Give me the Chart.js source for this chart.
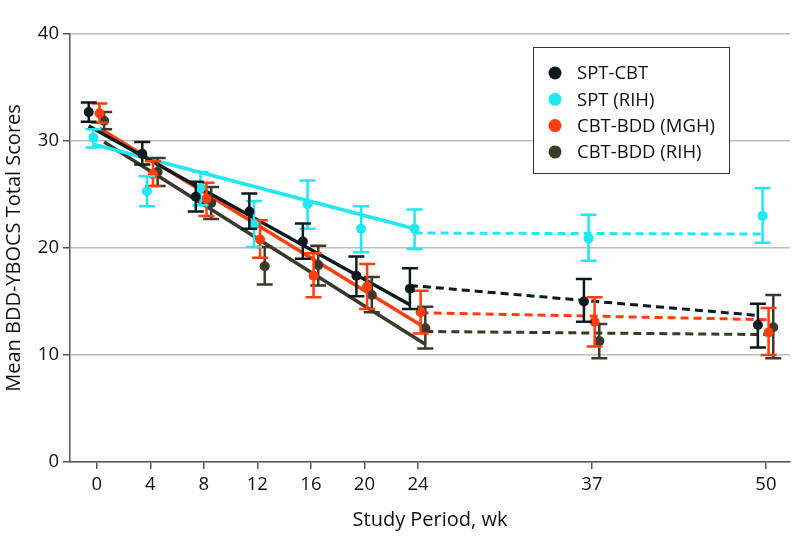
<!DOCTYPE html>
<html>
<head>
<meta charset="utf-8">
<script src="https://cdn.jsdelivr.net/npm/chart.js@4.4.1/dist/chart.umd.min.js"></script>
<style>
  html, body { margin: 0; padding: 0; background: #fff; }
  #wrap { width: 798px; height: 548px; }
</style>
</head>
<body>
<div id="wrap"><canvas id="chart" width="798" height="548"></canvas></div>
<script>
const weeks = [0, 4, 8, 12, 16, 20, 24, 37, 50];
const xTicks = [0, 4, 8, 12, 16, 20, 24, 37, 50];
const seriesNames = ["SPT-CBT", "SPT (RIH)", "CBT-BDD (MGH)", "CBT-BDD (RIH)"];

// group means and error bar ends, one array per series
const sptCbtMean = [32.7, 28.8, 24.8, 23.4, 20.6, 17.4, 16.2, 15.0, 12.8];
const sptCbtHi   = [33.6, 29.9, 26.2, 25.1, 22.3, 19.2, 18.1, 17.1, 14.8];
const sptCbtLo   = [31.8, 27.8, 23.4, 21.8, 19.0, 15.5, 14.3, 13.1, 10.7];

const sptRihMean = [30.3, 25.3, 25.6, 22.2, 24.1, 21.8, 21.8, 20.9, 23.0];
const sptRihHi   = [31.1, 26.7, 27.1, 24.4, 26.3, 23.9, 23.6, 23.1, 25.6];
const sptRihLo   = [29.4, 23.9, 24.0, 20.1, 21.8, 19.6, 19.9, 18.8, 20.5];

const cbtMghMean = [32.6, 26.9, 24.6, 20.8, 17.4, 16.4, 14.0, 13.1, 12.1];
const cbtMghHi   = [33.5, 28.1, 26.1, 22.6, 19.5, 18.5, 16.0, 15.4, 14.4];
const cbtMghLo   = [31.7, 25.8, 23.0, 19.1, 15.4, 14.3, 12.0, 10.8, 10.0];

const cbtRihMean = [31.9, 27.1, 24.2, 18.3, 18.4, 15.6, 12.5, 11.3, 12.6];
const cbtRihHi   = [32.7, 28.4, 25.7, 20.1, 20.2, 17.3, 14.5, 12.9, 15.6];
const cbtRihLo   = [31.1, 25.8, 22.7, 16.6, 16.5, 14.0, 10.6, 9.7, 9.7];

// fitted trend ends: treatment phase (wk 0-24) and follow-up (wk 24-50)
const fitTreatStart  = [31.4, 29.7, 31.2, 29.9];
const fitTreatEnd    = [14.7, 21.8, 12.8, 11.0];
const fitFollowStart = [16.5, 21.4, 13.95, 12.2];
const fitFollowEnd   = [13.7, 21.3, 13.3, 11.9];

const means = [sptCbtMean, sptRihMean, cbtMghMean, cbtRihMean];
const his = [sptCbtHi, sptRihHi, cbtMghHi, cbtRihHi];
const los = [sptCbtLo, sptRihLo, cbtMghLo, cbtRihLo];

const colors = ["#0c1a1d", "#1ee9f3", "#ff3d0d", "#3b3a2b"];
const jitter = [-0.6, -0.25, 0.2, 0.55];
const fontFamily = "'Open Sans', sans-serif";

const pointSets = means.map((m, i) => ({
  label: seriesNames[i],
  data: weeks.map((w, j) => ({ x: w + jitter[i], y: m[j] })),
  showLine: false,
  pointRadius: 5,
  pointBorderWidth: 0,
  backgroundColor: colors[i],
  borderColor: colors[i],
}));

const treatSets = seriesNames.map((name, i) => ({
  label: name + " fit",
  data: [
    { x: weeks[0] + jitter[i], y: fitTreatStart[i] },
    { x: weeks[6] + jitter[i], y: fitTreatEnd[i] },
  ],
  showLine: true,
  borderColor: colors[i],
  borderWidth: 3.5,
  pointRadius: 0,
}));

const followSets = seriesNames.map((name, i) => ({
  label: name + " follow-up",
  data: [
    { x: weeks[6] + jitter[i], y: fitFollowStart[i] },
    { x: weeks[8] + jitter[i], y: fitFollowEnd[i] },
  ],
  showLine: true,
  borderColor: colors[i],
  borderWidth: 3,
  borderDash: [8, 5],
  pointRadius: 0,
}));

// error bars, drawn just before each point set
const errorBars = {
  id: "errorBars",
  beforeDatasetDraw(chart, args) {
    const i = args.index;
    if (i > 3) return;
    const { ctx, scales: { x, y } } = chart;
    ctx.save();
    ctx.strokeStyle = colors[i];
    ctx.lineWidth = 2.5;
    weeks.forEach((w, j) => {
      const px = x.getPixelForValue(w + jitter[i]);
      const top = y.getPixelForValue(his[i][j]);
      const bot = y.getPixelForValue(los[i][j]);
      ctx.beginPath();
      ctx.moveTo(px, top);
      ctx.lineTo(px, bot);
      ctx.moveTo(px - 8, top);
      ctx.lineTo(px + 8, top);
      ctx.moveTo(px - 8, bot);
      ctx.lineTo(px + 8, bot);
      ctx.stroke();
    });
    ctx.restore();
  },
};

const boxLegend = {
  id: "boxLegend",
  afterDraw(chart) {
    const ctx = chart.ctx;
    ctx.save();
    ctx.strokeStyle = "#333";
    ctx.lineWidth = 1;
    ctx.fillStyle = "#fff";
    ctx.fillRect(533, 47, 196, 126);
    ctx.strokeRect(533.5, 47.5, 196, 126);
    ctx.font = "18.5px " + fontFamily;
    ctx.textBaseline = "middle";
    seriesNames.forEach((name, i) => {
      const ly = 73 + i * 26.3;
      ctx.beginPath();
      ctx.fillStyle = colors[i];
      ctx.arc(555, ly, 6.5, 0, Math.PI * 2);
      ctx.fill();
      ctx.fillStyle = "#111";
      ctx.fillText(name, 577, ly + 1);
    });
    ctx.restore();
  },
};

new Chart(document.getElementById("chart"), {
  type: "scatter",
  data: { datasets: [...pointSets, ...treatSets, ...followSets] },
  options: {
    responsive: false,
    animation: false,
    layout: { padding: { top: 34, right: 8, left: 0, bottom: 0 } },
    plugins: {
      legend: { display: false },
      tooltip: { enabled: false },
    },
    scales: {
      x: {
        type: "linear",
        min: -2,
        max: 51.8,
        afterBuildTicks: (s) => { s.ticks = xTicks.map((v) => ({ value: v })); },
        afterFit: (s) => { s.height = 86; },
        grid: { drawOnChartArea: false, tickLength: 7, tickColor: "#555", lineWidth: 1.5 },
        border: { color: "#555", width: 1.5 },
        ticks: {
          color: "#111",
          font: { size: 18.5, family: fontFamily },
          padding: 5,
          autoSkip: false,
          maxRotation: 0,
        },
        title: {
          display: true,
          text: "Study Period, wk",
          color: "#111",
          font: { size: 20, family: fontFamily },
          padding: { top: 4, bottom: 16 },
        },
      },
      y: {
        min: 0,
        max: 40,
        afterFit: (s) => { s.width = 70; },
        grid: { color: "#bdbdbd", lineWidth: 1.5, tickLength: 7, tickColor: "#555" },
        border: { color: "#555", width: 1.5 },
        ticks: {
          stepSize: 10,
          color: "#111",
          font: { size: 18.5, family: fontFamily },
          padding: 4,
        },
        title: {
          display: true,
          text: "Mean BDD-YBOCS Total Scores",
          color: "#111",
          font: { size: 20, family: fontFamily },
          padding: { top: 2, bottom: 0 },
        },
      },
    },
  },
  plugins: [errorBars, boxLegend],
});
</script>
</body>
</html>
